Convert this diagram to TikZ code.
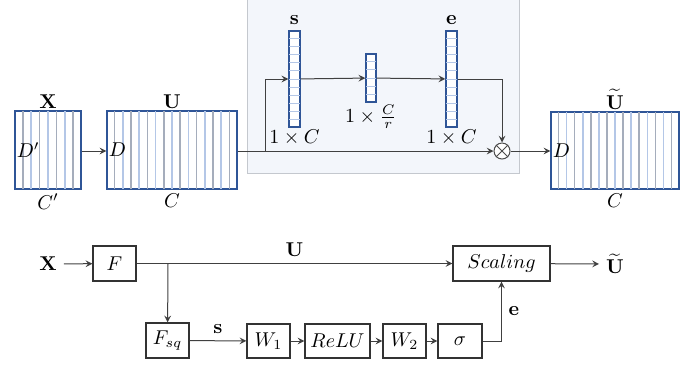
\documentclass[tikz,border=0pt]{standalone}
\usepackage{amsmath}
\usepackage{tikz}
\usetikzlibrary{shapes.geometric, arrows, positioning, calc}
\definecolor{mapblue}{HTML}{2F5597}
\definecolor{lineblue}{HTML}{B4C7E7}
\definecolor{linegray}{HTML}{A5ADBC}
\definecolor{panelfill}{HTML}{F3F6FB}
\definecolor{paneledge}{HTML}{C4C8CE}
\tikzstyle{fmap} = [rectangle, draw=mapblue, line width=0.6pt, fill=white, inner sep=0pt]
\tikzstyle{vect} = [rectangle, draw=mapblue, line width=0.7pt, fill=white,
 minimum width=5.5pt, inner sep=0pt]
\tikzstyle{block} = [rectangle, draw=black!80, line width=0.6pt,
 minimum width=21.5pt, minimum height=17.5pt, inner sep=0pt]
\tikzstyle{arrow} = [draw=black!75, line width=0.5pt, ->, >=stealth]
\tikzstyle{stripeA} = [draw=linegray, line width=0.8pt]
\tikzstyle{stripeB} = [draw=lineblue, line width=0.8pt]
\tikzstyle{rowline} = [draw=lineblue, line width=0.5pt]
\tikzstyle{lab} = [inner sep=1pt]

\begin{document}
\begin{tikzpicture}[x=0.5pt, y=-0.5pt]
\useasboundingbox (0,0) rectangle (699,366);
% excitation panel
\draw[fill=panelfill, draw=paneledge, line width=0.5pt] (247,-5) rectangle (519,173);

% feature maps
\node(X) [fmap, minimum width=33pt, minimum height=39pt] at (48,150) {};
\node(U) [fmap, minimum width=65pt, minimum height=39pt] at (172,150) {};
\node(Ut) [fmap, minimum width=64pt, minimum height=38.5pt] at (615,150.5) {};
\foreach \i in {1,3,5,7}
 \draw[stripeA] ($(X.north west)!\i/8!(X.north east)$) -- ($(X.south west)!\i/8!(X.south east)$);
\foreach \i in {2,4,6}
 \draw[stripeB] ($(X.north west)!\i/8!(X.north east)$) -- ($(X.south west)!\i/8!(X.south east)$);
\foreach \n in {U,Ut} {
 \foreach \i in {1,3,...,15}
  \draw[stripeA] ($(\n.north west)!\i/16!(\n.north east)$) -- ($(\n.south west)!\i/16!(\n.south east)$);
 \foreach \i in {2,4,...,14}
  \draw[stripeB] ($(\n.north west)!\i/16!(\n.north east)$) -- ($(\n.south west)!\i/16!(\n.south east)$);
}
\draw[draw=mapblue, line width=0.6pt] (X.north west) rectangle (X.south east);
\draw[draw=mapblue, line width=0.6pt] (U.north west) rectangle (U.south east);
\draw[draw=mapblue, line width=0.6pt] (Ut.north west) rectangle (Ut.south east);
\node[lab, above] at (X.north) {$\mathbf{X}$};
\node[lab, above] at (U.north) {$\mathbf{U}$};
\node[lab, above] at (Ut.north) {$\widetilde{\mathbf{U}}$};
\node[lab, anchor=west] at (X.west) {$D'$};
\node[lab, anchor=west] at (U.west) {$D$};
\node[lab, anchor=west] at (Ut.west) {$D$};
\node[inner sep=2pt, below] at (X.south) {$C'$};
\node[inner sep=2pt, below] at (U.south) {$C$};
\node[inner sep=2pt, below] at (Ut.south) {$C$};

% vectors
\node(s) [vect, minimum height=47.5pt] at (294.5,79) {};
\node(mid) [vect, minimum width=5pt, minimum height=23.5pt] at (371,78) {};
\node(e) [vect, minimum height=47.5pt] at (451.5,79) {};
\foreach \i in {1,...,11} {
 \draw[rowline] ($(s.north west)!\i/12!(s.south west)$) -- ($(s.north east)!\i/12!(s.south east)$);
 \draw[rowline] ($(e.north west)!\i/12!(e.south west)$) -- ($(e.north east)!\i/12!(e.south east)$);
}
\foreach \i in {1,...,5}
 \draw[rowline] ($(mid.north west)!\i/6!(mid.south west)$) -- ($(mid.north east)!\i/6!(mid.south east)$);
\draw[draw=mapblue, line width=0.7pt] (s.north west) rectangle (s.south east);
\draw[draw=mapblue, line width=0.7pt] (mid.north west) rectangle (mid.south east);
\draw[draw=mapblue, line width=0.7pt] (e.north west) rectangle (e.south east);
\node[lab, above=2pt] at (s.north) {$\mathbf{s}$};
\node[lab, above=2pt] at (e.north) {$\mathbf{e}$};
\node[lab, below] at (s.south) {$1\times C$};
\node[lab, below] at (mid.south) {$1\times\frac{C}{r}$};
\node[lab, below] at (e.south) {$1\times C$};

% scaling
\node(mult) [circle, draw=black!70, line width=0.5pt, fill=white, minimum size=8pt, inner sep=0pt] at (502,151) {};
\draw[black!70, line width=0.5pt] (mult.north west) -- (mult.south east);
\draw[black!70, line width=0.5pt] (mult.north east) -- (mult.south west);
\coordinate(split) at (265,151);

\draw[arrow] (X.east |- 0,151) -- (U.west |- 0,151);
\draw[arrow] (U.east |- 0,151) -- (mult.west);
\draw[arrow] (split) |- (s.west);
\draw[arrow] (s) -- (mid);
\draw[arrow] (mid) -- (e);
\draw[arrow] (e.east) -| (mult.north);
\draw[arrow] (mult.east) -- (Ut.west |- 0,151);

% block diagram
\node(Xin) at (48,264) {$\mathbf{X}$};
\node(F) [block] at (114.5,263.5) {$F$};
\node(scale) [block, minimum width=48.5pt] at (501.5,263.5) {$Scaling$};
\node(Uout) at (615,264) {$\widetilde{\mathbf{U}}$};
\node(Fsq) [block] at (167.5,340.5) {$F_{sq}$};
\node(W1) [block, minimum height=17pt] at (268.5,341) {$W_1$};
\node(relu) [block, minimum height=17pt, minimum width=32.5pt] at (337.5,341) {$ReLU$};
\node(W2) [block, minimum height=17pt] at (404.5,341) {$W_2$};
\node(sigma) [block, minimum height=17pt, minimum width=22pt] at (460,341) {$\sigma$};
\coordinate(fork) at (168,263.5);

\draw[arrow] (Xin) -- (F);
\draw[arrow] (F) -- node[anchor=south] {$\mathbf{U}$} (scale);
\draw[arrow] (fork) -- (Fsq);
\draw[arrow] (Fsq) -- node[anchor=south] {$\mathbf{s}$} (W1);
\draw[arrow] (W1) -- (relu);
\draw[arrow] (relu) -- (W2);
\draw[arrow] (W2) -- (sigma);
\draw[arrow] (sigma) -| node[pos=0.75, anchor=west] {$\mathbf{e}$} (scale);
\draw[arrow] (scale) -- (Uout);
\end{tikzpicture}
\end{document}
